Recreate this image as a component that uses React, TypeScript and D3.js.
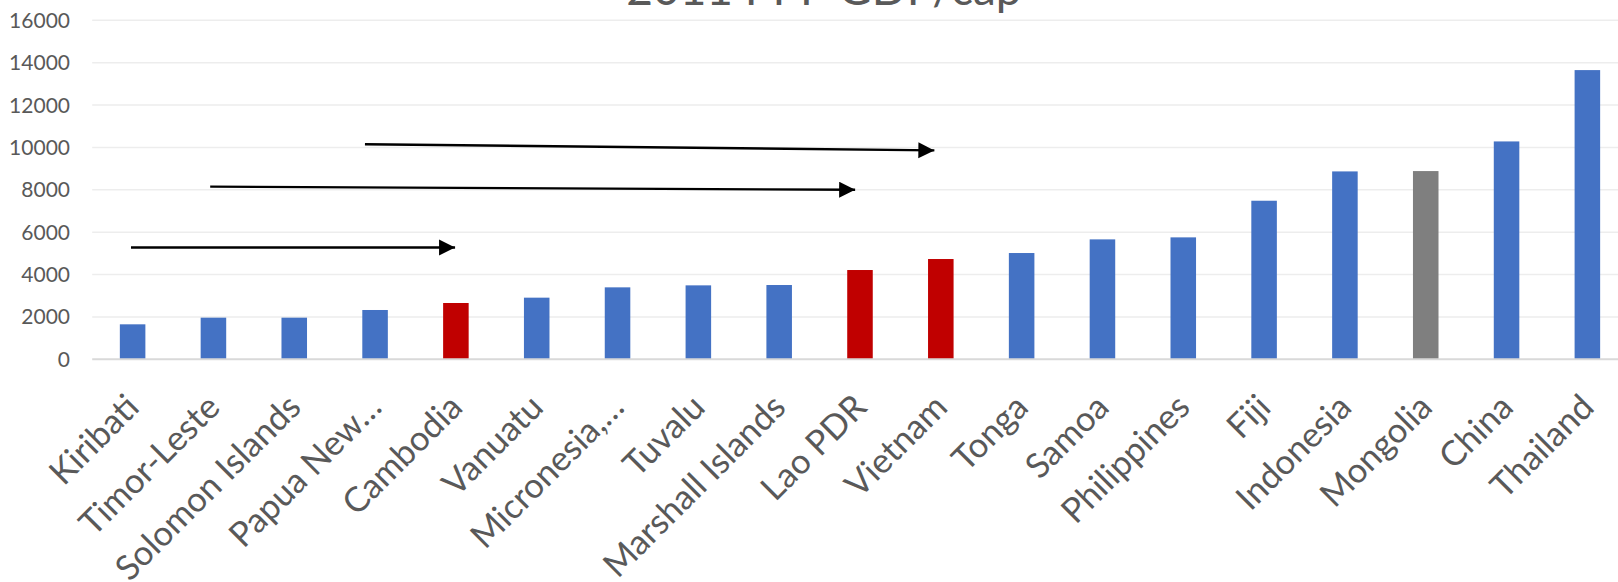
import React from "react";
import * as d3 from "d3";

const categories = [
  "Kiribati", "Timor-Leste", "Solomon Islands", "Papua New…", "Cambodia",
  "Vanuatu", "Micronesia,…", "Tuvalu", "Marshall Islands", "Lao PDR",
  "Vietnam", "Tonga", "Samoa", "Philippines", "Fiji", "Indonesia",
  "Mongolia", "China", "Thailand",
];
const values = [
  1651, 1965, 1965, 2327, 2657, 2909, 3396, 3490, 3506, 4214,
  4733, 5016, 5660, 5755, 7484, 8868, 8884, 10283, 13650,
];
const highlight = [
  "blue", "blue", "blue", "blue", "red", "blue", "blue", "blue", "blue", "red",
  "red", "blue", "blue", "blue", "blue", "blue", "grey", "blue", "blue",
];
const yTicks = [0, 2000, 4000, 6000, 8000, 10000, 12000, 14000, 16000];
const title = "2011 PPP GDP/cap";
// arrows in data units: x = category index position, y = value
const arrows = [
  { x0: 0.48, y0: 5280, x1: 4.49, y1: 5280 },
  { x0: 1.46, y0: 8150, x1: 9.44, y1: 8000 },
  { x0: 3.375, y0: 10150, x1: 10.42, y1: 9860 },
];

const colorMap: Record<string, string> = {
  blue: "#4472C4",
  red: "#C00000",
  grey: "#7F7F7F",
};

const W = 1618;
const H = 582;
const left = 92.2;
const step = 80.82;
const FONT = "Lato, 'Open Sans', sans-serif";

export default function App() {
  const x = d3
    .scaleBand<string>()
    .domain(categories)
    .range([left, left + step * categories.length])
    .padding(0);
  const xi = d3
    .scaleLinear()
    .domain([0, categories.length])
    .range([left, left + step * categories.length]);
  const y = d3.scaleLinear().domain([0, 16000]).range([359.3, 20.3]);
  const barW = x.bandwidth() * 0.316;

  return (
    <svg
      width={W}
      height={H}
      style={{ position: "absolute", left: 0, top: 0, background: "#fff" }}
    >
      <defs>
        <marker
          id="ah"
          markerUnits="userSpaceOnUse"
          markerWidth={17}
          markerHeight={17}
          refX={16}
          refY={8}
          orient="auto"
        >
          <path d="M0,0 L16,8 L0,16 Z" fill="#000" />
        </marker>
      </defs>
      <rect x={0} y={0} width={W} height={H} fill="#fff" />
      {yTicks.map((t) => (
        <g key={t}>
          {t !== 0 && (
            <line
              x1={left}
              x2={W}
              y1={y(t)}
              y2={y(t)}
              stroke="#ededed"
              strokeWidth={1.5}
            />
          )}
          <text
            x={70}
            y={y(t)}
            dy="0.36em"
            textAnchor="end"
            fontFamily={FONT}
            fontSize={21}
            fill="#595959"
          >
            {t}
          </text>
        </g>
      ))}
      <text
        x={824}
        y={5}
        textAnchor="middle"
        fontFamily={FONT}
        fontSize={46}
        fill="#595959"
      >
        {title}
      </text>
      {categories.map((c, i) => (
        <rect
          key={c}
          x={(x(c) as number) + x.bandwidth() / 2 - barW / 2}
          y={y(values[i])}
          width={barW}
          height={y(0) - y(values[i])}
          fill={colorMap[highlight[i]]}
        />
      ))}
      <line
        x1={left}
        x2={W}
        y1={y(0)}
        y2={y(0)}
        stroke="#d9d9d9"
        strokeWidth={2}
      />
      {categories.map((c) => {
        const cx = (x(c) as number) + x.bandwidth() / 2 + 8.5;
        const cy = y(0) + 50;
        return (
          <text
            key={c}
            transform={`translate(${cx},${cy}) rotate(-45)`}
            textAnchor="end"
            fontFamily={FONT}
            fontSize={34.5}
            fill="#595959"
          >
            {c}
          </text>
        );
      })}
      {arrows.map((a, i) => (
        <line
          key={i}
          x1={xi(a.x0)}
          y1={y(a.y0)}
          x2={xi(a.x1)}
          y2={y(a.y1)}
          stroke="#000"
          strokeWidth={2.4}
          markerEnd="url(#ah)"
        />
      ))}
    </svg>
  );
}
